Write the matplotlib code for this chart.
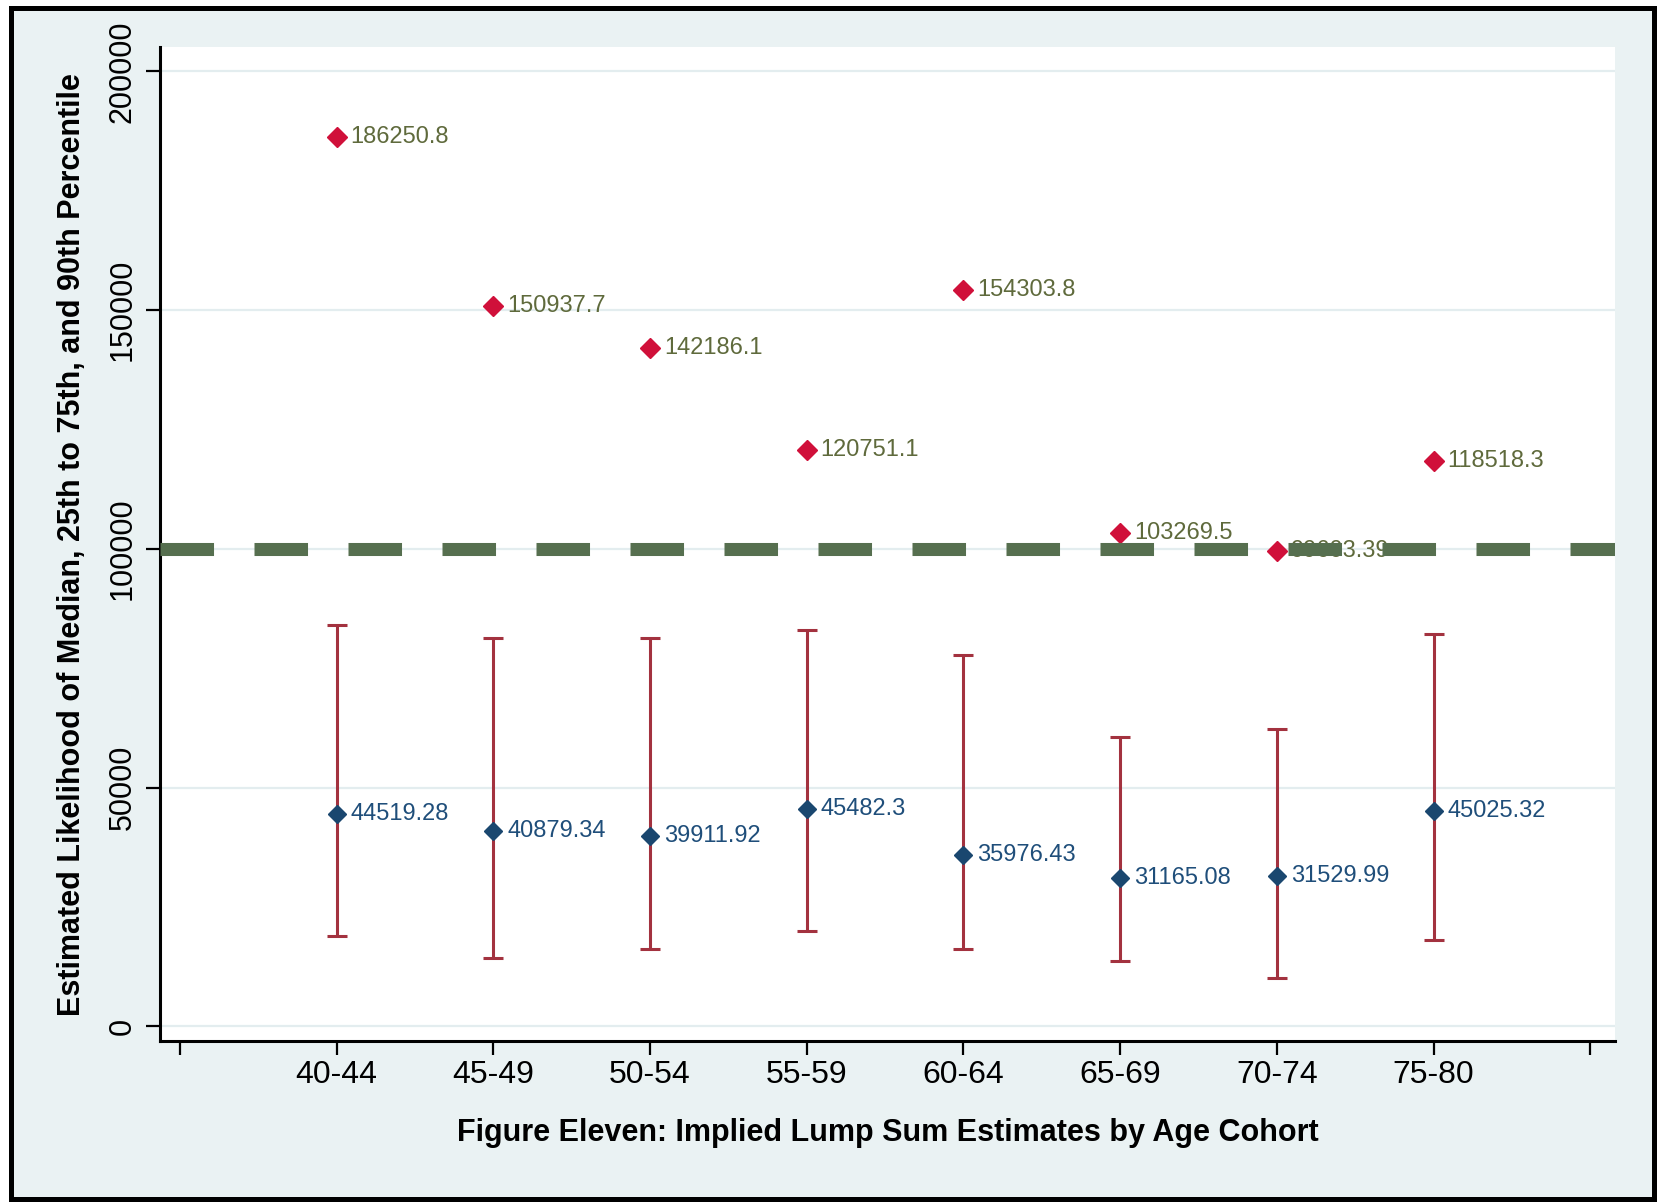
import matplotlib
matplotlib.use("Agg")
import matplotlib.pyplot as plt
from matplotlib.patches import Rectangle

plt.rcParams["font.family"] = ["Liberation Sans", "DejaVu Sans"]

cohorts = ["40-44", "45-49", "50-54", "55-59", "60-64", "65-69", "70-74", "75-80"]
p90 = [186250.8, 150937.7, 142186.1, 120751.1, 154303.8, 103269.5, 99603.39, 118518.3]
median = [44519.28, 40879.34, 39911.92, 45482.3, 35976.43, 31165.08, 31529.99, 45025.32]
# 25th / 75th percentile
p25 = [19000, 14400, 16200, 19900, 16200, 13700, 10200, 18100]
p75 = [84000, 81400, 81400, 83100, 77900, 60700, 62300, 82300]
ref_line = 100000

W, H = 1657, 1202
fig = plt.figure(figsize=(W / 100, H / 100), dpi=100, facecolor="white")

# stata-ish graph region with black frame
fig.patches.append(Rectangle((10.5 / W, 3.5 / H), (1653.5 - 10.5) / W, (1198.5 - 7.5) / H,
                             transform=fig.transFigure, facecolor="#eaf2f3",
                             edgecolor="black", lw=3.6, zorder=-10))

ax = fig.add_axes([160 / W, 1 - 1041 / H, (1615 - 160) / W, (1041 - 47) / H])
ax.set_facecolor("white")

x = list(range(1, len(cohorts) + 1))

# 25th to 75th range
ax.errorbar(x, median, yerr=[[m - lo for m, lo in zip(median, p25)],
                             [hi - m for m, hi in zip(median, p75)]],
            fmt="none", ecolor="#a3323f", elinewidth=2.2, capsize=7.5, capthick=2.2, zorder=2)

ax.plot(x, median, "D", color="#1a476f", ms=9.5, zorder=3)
ax.plot(x, p90, "D", color="#d0103a", ms=10, zorder=3)

for xi, v in zip(x, median):
    ax.annotate(f"{v}", (xi, v), xytext=(10, 0), textcoords="offset points",
                va="center", ha="left", fontsize=17, color="#1f4e7a", zorder=4)
for xi, v in zip(x, p90):
    ax.annotate(f"{v}", (xi, v), xytext=(10, 0), textcoords="offset points",
                va="center", ha="left", fontsize=17, color="#5f6a3c", zorder=4)

ax.axhline(ref_line, color="#566f4f", lw=9.4, dashes=(4.1, 3.1),
           solid_capstyle="butt", dash_capstyle="butt", zorder=6)

ax.set_xlim(-0.128, 9.158)
ax.set_ylim(-3040, 205130)
ax.set_xticks(range(0, 10))
ax.set_xticklabels([""] + cohorts + [""])
ax.set_yticks([0, 50000, 100000, 150000, 200000])

ax.grid(axis="y", color="#e3edef", lw=1.6, zorder=0)
ax.set_axisbelow(True)

for s in ["top", "right"]:
    ax.spines[s].set_visible(False)
for s in ["left", "bottom"]:
    ax.spines[s].set_linewidth(2.2)

ax.tick_params(axis="both", length=10, width=1.6)
ax.tick_params(axis="x", pad=4, labelsize=23)
ax.tick_params(axis="y", pad=6, labelsize=22)
for lab in ax.get_yticklabels():
    lab.set_rotation(90)
    lab.set_va("center")

ax.set_xlabel("Figure Eleven: Implied Lump Sum Estimates by Age Cohort",
              fontsize=22, fontweight="bold")
ax.xaxis.set_label_coords(0.5, (1041 - 1133) / (1041 - 47))
ax.xaxis.label.set_va("center")
ax.set_ylabel("Estimated Likelihood of Median, 25th to 75th, and 90th Percentile",
              fontsize=22, fontweight="bold")
ax.yaxis.set_label_coords((72 - 160) / (1615 - 160), (1041 - 545) / (1041 - 47))
ax.yaxis.label.set_va("center")

fig.savefig("out.png", dpi=100, facecolor="white")
